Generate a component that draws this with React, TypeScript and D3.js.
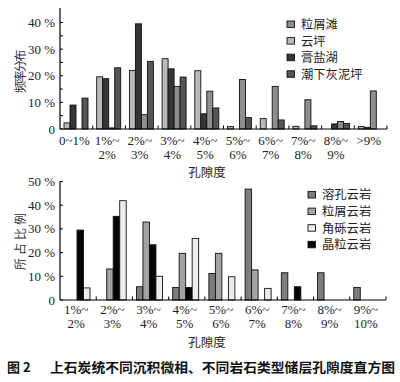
import React from "react";
import * as d3 from "d3";

// ---------- Top chart data (频率分布) ----------
const topCats = ["0~1%", "1%~2%", "2%~3%", "3%~4%", "4%~5%", "5%~6%", "6%~7%", "7%~8%", "8%~9%", ">9%"];
const topTickLabels = [["0~1%"], ["1%~", "2%"], ["2%~", "3%"], ["3%~", "4%"], ["4%~", "5%"], ["5%~", "6%"], ["6%~", "7%"], ["7%~", "8%"], ["8%~", "9%"], [">9%"]];
const yunping = [2.3, 19.6, 22, 26.4, 21.9, 0.9, 3.9, 1, 0, 0.9];
const gaoyanhu = [9, 18.9, 39.5, 22.6, 5.7, 0, 0, 0, 1.9, 0.6];
const lixietan = [0, 0.4, 5.4, 16, 14.2, 18.6, 16, 11, 2.8, 14.3];
const chaoxia = [11.6, 23, 25.4, 19.5, 7.9, 4.3, 3.4, 1.2, 2.1, 0];
const topYTicks = [0, 10, 20, 30, 40];
const topYMinor = [5, 15, 25, 35];

// ---------- Bottom chart data (所占比例) ----------
const botCats = ["1%~2%", "2%~3%", "3%~4%", "4%~5%", "5%~6%", "6%~7%", "7%~8%", "8%~9%", "9%~10%"];
const botTickLabels = [["1%~", "2%"], ["2%~", "3%"], ["3%~", "4%"], ["4%~", "5%"], ["5%~", "6%"], ["6%~", "7%"], ["7%~", "8%"], ["8%~", "9%"], ["9%~", "10%"]];
const rongkong = [0, 0, 5.6, 5.3, 11.2, 46.8, 11.5, 11.5, 5.3];
const lixieyun = [0, 13.1, 32.9, 19.7, 19.7, 12.7, 0, 0, 0];
const jingli = [29.5, 35.3, 23.3, 5.3, 0, 0, 5.6, 0, 0];
const jiaoli = [5.1, 41.9, 10, 26, 9.8, 4.9, 0, 0, 0];
const botYTicks = [0, 10, 20, 30, 40, 50];

const SERIF = "'Liberation Serif', 'DejaVu Serif', serif";
const CJK = "'Noto Sans CJK SC', sans-serif";

type Series = { name: string; values: number[]; color: string };

const topSeries: Series[] = [
  { name: "云坪", values: yunping, color: "#b9b9b9" },
  { name: "膏盐湖", values: gaoyanhu, color: "#363636" },
  { name: "粒屑滩", values: lixietan, color: "#8e8e8e" },
  { name: "潮下灰泥坪", values: chaoxia, color: "#555555" },
];
const topLegendOrder = ["粒屑滩", "云坪", "膏盐湖", "潮下灰泥坪"];

const botSeries: Series[] = [
  { name: "溶孔云岩", values: rongkong, color: "#7d7d7d" },
  { name: "粒屑云岩", values: lixieyun, color: "#a3a3a3" },
  { name: "晶粒云岩", values: jingli, color: "#050505" },
  { name: "角砾云岩", values: jiaoli, color: "#ececec" },
];
const botLegendOrder = ["溶孔云岩", "粒屑云岩", "角砾云岩", "晶粒云岩"];

type PanelProps = {
  cats: string[];
  labels: string[][];
  series: Series[];
  legendOrder: string[];
  yMax: number;
  yTicks: number[];
  yMinor: number[];
  x0: number;
  x1: number;
  y0: number;
  yTop: number;
  axisTop: number;
  barStart: number;
  barEnd: number;
  yTitle: string;
  yTitleY: number;
  yTitleSpacing: number;
  legendX: number;
  legendY: number;
  labelY: number;
  titleY: number;
};

function Panel(p: PanelProps) {
  const x = d3.scaleBand<string>().domain(p.cats).range([p.x0, p.x1]).padding(0);
  const xs = d3
    .scaleBand<string>()
    .domain(p.series.map((s) => s.name))
    .range([p.barStart, p.barEnd])
    .padding(0);
  const y = d3.scaleLinear().domain([0, p.yMax]).range([p.y0, p.yTop]);
  const bw = xs.bandwidth();
  const boundaries = p.cats.map((c) => x(c) as number).concat([p.x1]);
  return (
    <g>
      {/* bars */}
      {p.series.map((s) =>
        s.values.map((v, i) =>
          v > 0 ? (
            <rect
              key={s.name + i}
              x={(x(p.cats[i]) as number) + (xs(s.name) as number)}
              y={y(v)}
              width={bw}
              height={p.y0 - y(v)}
              fill={s.color}
              stroke="#111"
              strokeWidth={0.9}
            />
          ) : null
        )
      )}
      {/* axes */}
      <line x1={p.x0} x2={p.x0} y1={p.axisTop} y2={p.y0} stroke="#000" strokeWidth={1.2} />
      <line x1={p.x0} x2={p.x1} y1={p.y0} y2={p.y0} stroke="#000" strokeWidth={1.2} />
      {p.yTicks.concat(p.yMinor).map((t) => (
        <line key={"yt" + t} x1={p.x0} x2={p.x0 + 3} y1={y(t)} y2={y(t)} stroke="#000" strokeWidth={1} />
      ))}
      {boundaries.slice(1).map((bx, i) => (
        <line key={"xt" + i} x1={bx} x2={bx} y1={p.y0} y2={p.y0 - 3.5} stroke="#000" strokeWidth={1} />
      ))}
      {p.yTicks.map((t) => (
        <text
          key={"yl" + t}
          x={p.x0 - 5}
          y={y(t)}
          dy="0.35em"
          textAnchor="end"
          fontFamily={SERIF}
          fontSize={13}
          fill="#222"
        >
          {t === 0 ? "0" : `${t} %`}
        </text>
      ))}
      {p.labels.map((lines, i) => {
        const cx = (x(p.cats[i]) as number) + x.bandwidth() / 2 - 2;
        return (
          <text key={"xl" + i} textAnchor="middle" fontFamily={SERIF} fontSize={13} fill="#222">
            {lines.map((ln, j) => (
              <tspan key={j} x={cx} y={p.labelY + j * 14}>
                {ln}
              </tspan>
            ))}
          </text>
        );
      })}
      <text x={207} y={p.titleY} textAnchor="middle" fontFamily={CJK} fontSize={12.5} fill="#222">
        孔隙度
      </text>
      <text
        transform={`translate(25,${p.yTitleY}) rotate(-90)`}
        textAnchor="middle"
        fontFamily={CJK}
        fontSize={12}
        letterSpacing={p.yTitleSpacing}
        fill="#333"
      >
        {p.yTitle}
      </text>
      {/* legend */}
      {p.legendOrder.map((name, i) => {
        const s = p.series.find((d) => d.name === name)!;
        const ly = p.legendY + i * 16.6;
        return (
          <g key={"lg" + name}>
            <rect x={p.legendX} y={ly - 3.5} width={7.5} height={6.5} fill={s.color} stroke="#111" strokeWidth={0.9} />
            <text x={p.legendX + 14} y={ly} dy="0.36em" fontFamily={CJK} fontSize={12.3} fill="#222">
              {name}
            </text>
          </g>
        );
      })}
    </g>
  );
}

export default function App() {
  return (
    <svg
      width={400}
      height={382}
      viewBox="0 0 400 382"
      style={{ position: "absolute", left: 0, top: 0, background: "#fff" }}
    >
      <rect width={400} height={382} fill="#fff" />
      <Panel
        cats={topCats}
        labels={topTickLabels}
        series={topSeries}
        legendOrder={topLegendOrder}
        yMax={40}
        yTicks={topYTicks}
        yMinor={topYMinor}
        x0={60}
        x1={387}
        y0={129}
        yTop={22.5}
        axisTop={8}
        barStart={4}
        barEnd={28}
        yTitle="频率分布"
        yTitleY={72}
        yTitleSpacing={-1.5}
        legendX={287}
        legendY={24.5}
        labelY={145}
        titleY={177}
      />
      <Panel
        cats={botCats}
        labels={botTickLabels}
        series={botSeries}
        legendOrder={botLegendOrder}
        yMax={50}
        yTicks={botYTicks}
        yMinor={[]}
        x0={60}
        x1={386}
        y0={300}
        yTop={181.5}
        axisTop={181}
        barStart={4}
        barEnd={30}
        yTitle="所占比例"
        yTitleY={240}
        yTitleSpacing={3}
        legendX={308}
        legendY={195}
        labelY={314}
        titleY={347}
      />
      <text x={7} y={372} fontFamily={CJK} fontWeight="bold" fontSize={13} fill="#111">
        图 2
      </text>
      <text
        x={50}
        y={372}
        fontFamily={CJK}
        fontWeight="bold"
        fontSize={13}
        textLength={345}
        lengthAdjust="spacingAndGlyphs"
        fill="#111"
      >
        上石炭统不同沉积微相、不同岩石类型储层孔隙度直方图
      </text>
    </svg>
  );
}
